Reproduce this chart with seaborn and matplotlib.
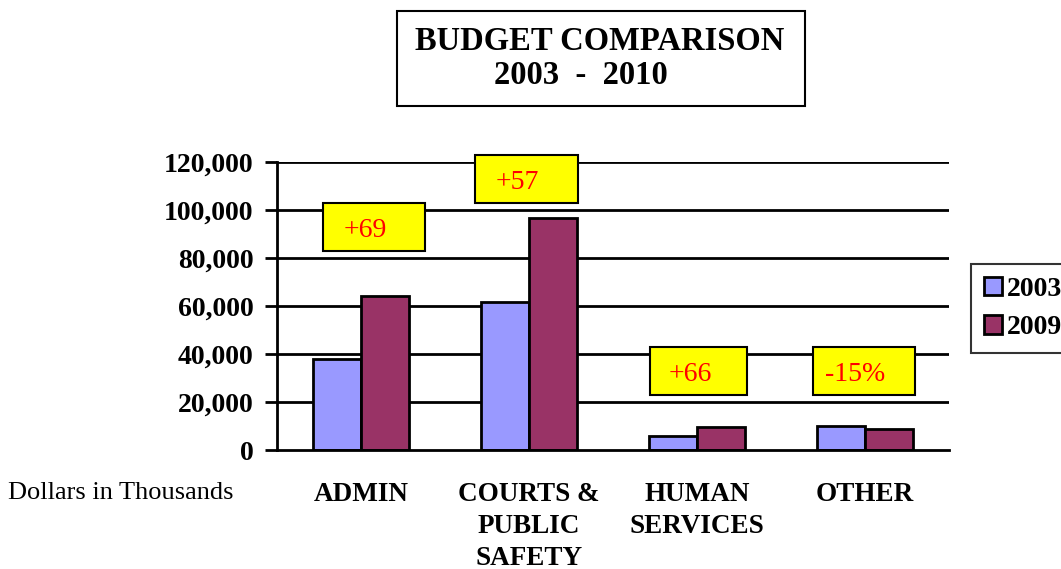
import matplotlib
matplotlib.use("Agg")
import matplotlib.pyplot as plt
from matplotlib.patches import Rectangle
import seaborn as sns
import pandas as pd

categories = ["ADMIN", "COURTS &\nPUBLIC\nSAFETY", "HUMAN\nSERVICES", "OTHER"]
series_names = ["2003", "2009"]
values_2003 = [38000, 61500, 5800, 10000]
values_2009 = [64000, 96500, 9600, 8700]
changes = ["+69", "+57", "+66", "-15%"]
yticks = [0, 20000, 40000, 60000, 80000, 100000, 120000]
colors = ["#9999FF", "#993366"]

df = pd.DataFrame({
    "cat": categories * 2,
    "year": [series_names[0]] * 4 + [series_names[1]] * 4,
    "val": values_2003 + values_2009,
})

sns.set_theme(style="white")
plt.rcParams["font.family"] = ["Liberation Serif", "DejaVu Serif"]
plt.rcParams["text.color"] = "black"
plt.rcParams["xtick.color"] = "black"
plt.rcParams["ytick.color"] = "black"
plt.rcParams["xtick.labelcolor"] = "black"
plt.rcParams["ytick.labelcolor"] = "black"

W, H = 1061, 569
fig = plt.figure(figsize=(W / 100, H / 100), dpi=100)
ax = fig.add_axes([277 / W, 1 - 450 / H, (949 - 277) / W, (450 - 162) / H])

sns.barplot(data=df, x="cat", y="val", hue="year", order=categories,
            hue_order=series_names, palette=colors, width=0.571,
            edgecolor="black", linewidth=2, saturation=1, ax=ax, zorder=3)

ax.set_xlim(-0.5, 3.5)
ax.set_ylim(0, 120000)
ax.set_yticks(yticks)
ax.set_yticklabels([f"{v:,}" for v in yticks], fontsize=20, fontweight="bold",
                   color="black")
for v in yticks[1:]:
    ax.axhline(v, color="black", lw=2, zorder=1)
ax.set_xticks(range(4))
ax.set_xticklabels(categories, fontsize=19.5, fontweight="bold", linespacing=1.36,
                   va="top", color="black")
ax.set_xticks([-0.5, 0.5, 1.5, 2.5, 3.5], minor=True)
ax.tick_params(axis="x", which="major", length=0, pad=23)
ax.tick_params(axis="x", which="minor", length=9, width=2, color="black", direction="out")
ax.tick_params(axis="y", which="major", length=9, width=2, color="black",
               direction="out", pad=8, left=True)
ax.set_xlabel("")
ax.set_ylabel("")
for s in ["top", "right"]:
    ax.spines[s].set_visible(False)
for s in ["left", "bottom"]:
    ax.spines[s].set_color("black")
    ax.spines[s].set_linewidth(2)
    ax.spines[s].set_zorder(4)

# change annotation boxes (data coords)
boxes = [(-0.226, 0.381, 82900, 102900), (0.679, 1.292, 102900, 122900),
         (1.72, 2.30, 22900, 42900), (2.69, 3.30, 22900, 42900)]
for (x0, x1, y0, y1), t in zip(boxes, changes):
    ax.add_patch(Rectangle((x0, y0), x1 - x0, y1 - y0, facecolor="#FFFF00",
                           edgecolor="black", lw=1.5, clip_on=False, zorder=5))
    ax.text(x0 + (x1 - x0) * 0.41, (y0 + y1) / 2 - 1500, t, color="red",
            fontsize=20, ha="center", va="center", zorder=6)

# legend
handles, labels = ax.get_legend_handles_labels()
ax.get_legend().remove()
leg = fig.legend(handles, labels, loc="upper left",
                 bbox_to_anchor=(971 / W, 1 - 264 / H), borderaxespad=0,
                 frameon=True, fancybox=False, handlelength=0.65,
                 handleheight=0.65, handletextpad=0.2, labelspacing=0.5,
                 borderpad=0.45, prop={"size": 20, "weight": "bold"})
leg.get_frame().set_edgecolor("black")
leg.get_frame().set_linewidth(1.5)
for t in leg.get_texts():
    t.set_color("black")

# title box
fig.patches.append(Rectangle((397 / W, 1 - 106 / H), (805 - 397) / W, 95 / H,
                             transform=fig.transFigure, facecolor="white",
                             edgecolor="black", lw=1.5))
fig.text(600 / W, 1 - 41 / H, "BUDGET COMPARISON", fontsize=23.5, fontweight="bold",
         ha="center", va="center")
fig.text(581 / W, 1 - 76 / H, "2003  -  2010", fontsize=23.5, fontweight="bold",
         ha="center", va="center")

fig.text(8 / W, 1 - 493 / H, "Dollars in Thousands", fontsize=19, ha="left",
         va="center")

fig.savefig("out.png", dpi=100)
